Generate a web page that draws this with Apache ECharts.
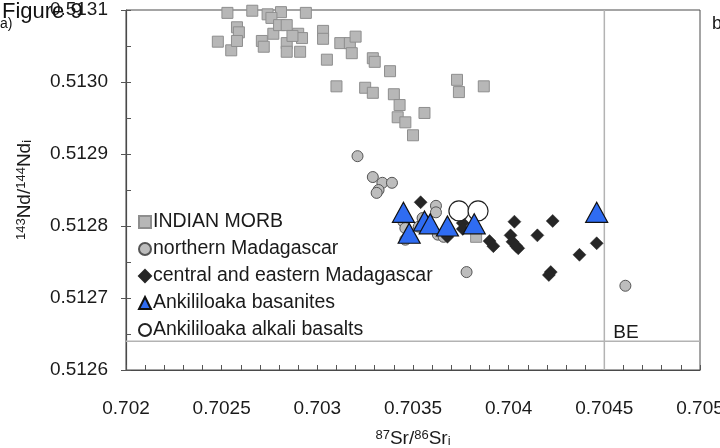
<!DOCTYPE html>
<html>
<head>
<meta charset="utf-8">
<script src="https://cdn.jsdelivr.net/npm/echarts@6/dist/echarts.min.js"></script>
<style>
  html, body { margin: 0; padding: 0; background: #fff; }
  #chart { width: 720px; height: 448px; }
</style>
</head>
<body>
<div id="chart"></div>
<script>
// 87Sr/86Sr (initial) vs 143Nd/144Nd (initial)
const morb = [
  [0.70253, 0.513096], [0.70266, 0.513099], [0.70274, 0.513094], [0.70281, 0.513097],
  [0.70294, 0.513096], [0.70276, 0.513089], [0.70248, 0.513056], [0.70255, 0.513044],
  [0.70258, 0.513076], [0.70259, 0.513069], [0.70258, 0.513057], [0.70271, 0.513057],
  [0.70272, 0.513049], [0.70277, 0.513067], [0.70280, 0.513079], [0.70284, 0.513079],
  [0.70284, 0.513054], [0.70284, 0.513042], [0.70290, 0.513067], [0.70292, 0.513061],
  [0.70291, 0.513042], [0.70303, 0.513071], [0.70303, 0.513060], [0.70305, 0.513031],
  [0.70312, 0.513054], [0.70317, 0.513054], [0.70318, 0.513040], [0.70320, 0.513063],
  [0.70310, 0.512994], [0.70325, 0.512992], [0.70329, 0.513033], [0.70330, 0.513028],
  [0.70338, 0.513015], [0.70329, 0.512985], [0.70340, 0.512983], [0.70343, 0.512968],
  [0.70342, 0.512951], [0.70346, 0.512944], [0.70350, 0.512926], [0.70356, 0.512957],
  [0.70373, 0.513003], [0.70374, 0.512986], [0.70387, 0.512994], [0.70383, 0.512785],
  [0.70287, 0.513064]
];
const northMada = [
  [0.70321, 0.512897], [0.70329, 0.512868], [0.70334, 0.512860], [0.70339, 0.512860],
  [0.70332, 0.512850], [0.70331, 0.512846], [0.70362, 0.512828], [0.70362, 0.512819],
  [0.70345, 0.512806], [0.70346, 0.512797], [0.70346, 0.512781], [0.70353, 0.512799],
  [0.70355, 0.512811], [0.70363, 0.512788], [0.70366, 0.512785], [0.70378, 0.512736],
  [0.70461, 0.512717]
];
const centralEastMada = [
  [0.70354, 0.512833], [0.70368, 0.512785], [0.70376, 0.512804], [0.70376, 0.512796],
  [0.70390, 0.512779], [0.70392, 0.512772], [0.70403, 0.512806], [0.70401, 0.512787],
  [0.70402, 0.512778], [0.70404, 0.512772], [0.70405, 0.512769], [0.70415, 0.512787],
  [0.70423, 0.512807], [0.70422, 0.512736], [0.70421, 0.512732], [0.70437, 0.512760],
  [0.70446, 0.512776]
];
const basanites = [
  [0.70345, 0.512819], [0.70348, 0.512790], [0.70356, 0.512807], [0.70359, 0.512803],
  [0.70368, 0.512800], [0.70382, 0.512803], [0.70446, 0.512819]
];
const alkaliBasalts = [
  [0.70374, 0.512821], [0.70384, 0.512821]
];
// Bulk Earth reference values
const beSr = 0.7045;
const beNd = 0.51264;

const xTicks = { min: 0.702, max: 0.705, step: 0.0005, minorStep: 0.0001 };
const yTicks = { min: 0.5126, max: 0.5131, step: 0.0001, minorStep: 0.00005 };

const FONT = '"Liberation Sans", Arial, sans-serif';
const ink = '#1a1a1a';
const tickColor = '#555';

const chart = echarts.init(document.getElementById('chart'), null, { renderer: 'canvas' });

const richTitle = {
  m:   { fontSize: 19, lineHeight: 19, verticalAlign: 'middle', fontFamily: FONT, color: ink },
  sup: { fontSize: 13, lineHeight: 13, verticalAlign: 'top', fontFamily: FONT, color: ink },
  sub: { fontSize: 13, lineHeight: 13, verticalAlign: 'bottom', fontFamily: FONT, color: ink }
};

const hiddenAxisParts = {
  axisLine: { show: false },
  axisLabel: { show: false },
  splitLine: { show: false }
};

chart.setOption({
  backgroundColor: '#fff',
  animation: false,
  textStyle: { fontFamily: FONT },
  grid: {
    left: 126, right: 20, top: 10, bottom: 78,
    outerBoundsMode: 'none', containLabel: false,
    show: true, borderColor: '#4a4a4a', borderWidth: 1, backgroundColor: 'transparent'
  },
  xAxis: [{
    type: 'value',
    min: xTicks.min, max: xTicks.max, interval: xTicks.step,
    axisLine: { onZero: false, lineStyle: { color: '#4a4a4a', width: 1.2 } },
    axisTick: { show: false },
    splitLine: { show: false },
    axisLabel: {
      margin: 29, fontSize: 19, color: ink, fontFamily: FONT,
      formatter: v => String(parseFloat(v.toFixed(4)))
    },
    name: '{sup|87}{m|Sr/}{sup|86}{m|Sr}{sub|i}',
    nameLocation: 'middle', nameGap: 59,
    nameTextStyle: { rich: richTitle, lineHeight: 26 }
  }, {
    // inward ticks along the bottom edge
    type: 'value', position: 'bottom',
    min: xTicks.min, max: xTicks.max, interval: xTicks.minorStep,
    axisTick: { show: true, inside: true, length: 5, lineStyle: { color: tickColor } },
    ...hiddenAxisParts
  }],
  yAxis: [{
    type: 'value',
    min: yTicks.min, max: yTicks.max, interval: yTicks.step,
    axisLine: { onZero: false, lineStyle: { color: '#4a4a4a', width: 1.2 } },
    axisTick: { show: true, inside: false, length: 5, lineStyle: { color: tickColor } },
    splitLine: { show: false },
    axisLabel: {
      margin: 18, fontSize: 19, color: ink, fontFamily: FONT,
      formatter: v => v.toFixed(4)
    },
    name: '{sup|143}{m|Nd/}{sup|144}{m|Nd}{sub|i}',
    nameLocation: 'middle', nameGap: 92, nameRotate: 90,
    nameTextStyle: { rich: richTitle, lineHeight: 26 }
  }, {
    // inward half-step ticks
    type: 'value', position: 'left',
    min: yTicks.min, max: yTicks.max, interval: yTicks.minorStep,
    axisTick: { show: true, inside: true, length: 5, lineStyle: { color: tickColor } },
    ...hiddenAxisParts
  }],
  legend: {
    orient: 'vertical',
    left: 133, top: 207,
    itemWidth: 12, itemHeight: 12, itemGap: 7,
    textStyle: { fontSize: 19.5, lineHeight: 20, color: ink, fontFamily: FONT, padding: [0, 0, 0, -3] },
    data: [
      { name: 'INDIAN MORB', icon: 'rect' },
      { name: 'northern Madagascar', icon: 'circle' },
      { name: 'central and eastern Madagascar', icon: 'diamond' },
      { name: 'Ankililoaka basanites', icon: 'triangle' },
      { name: 'Ankililoaka alkali basalts', icon: 'circle' }
    ]
  },
  series: [
    {
      // Bulk Earth guides
      name: 'BE Sr', type: 'line', silent: true, symbol: 'none', z: 1,
      data: [[beSr, yTicks.min], [beSr, yTicks.max]],
      lineStyle: { color: '#b3b3b3', width: 1.5 }
    },
    {
      name: 'BE Nd', type: 'line', silent: true, symbol: 'none', z: 1,
      data: [[xTicks.min, beNd], [xTicks.max, beNd]],
      lineStyle: { color: '#b3b3b3', width: 1.5 },
      markPoint: {
        silent: true, symbol: 'circle', symbolSize: 0,
        label: {
          show: true, formatter: 'BE', fontSize: 19, color: ink, fontFamily: FONT,
          position: 'insideLeft', offset: [4, -8]
        },
        data: [{ coord: [beSr, beNd] }]
      }
    },
    {
      name: 'INDIAN MORB', type: 'scatter', symbol: 'rect', symbolSize: 11,
      data: morb,
      itemStyle: { color: '#b7b7b7', borderColor: '#8e8e8e', borderWidth: 1, opacity: 1 }
    },
    {
      name: 'northern Madagascar', type: 'scatter', symbol: 'circle', symbolSize: 11,
      data: northMada,
      itemStyle: { color: '#bdbdbd', borderColor: '#555', borderWidth: 1, opacity: 1 }
    },
    {
      name: 'central and eastern Madagascar', type: 'scatter', symbol: 'diamond', symbolSize: 13,
      data: centralEastMada,
      itemStyle: { color: '#262626', borderColor: '#262626', borderWidth: 0.5, opacity: 1 }
    },
    {
      name: 'Ankililoaka alkali basalts', type: 'scatter', symbol: 'circle', symbolSize: 20,
      data: alkaliBasalts,
      itemStyle: { color: '#ffffff', borderColor: '#222', borderWidth: 1.2, opacity: 1 }
    },
    {
      name: 'Ankililoaka basanites', type: 'scatter', symbol: 'triangle', symbolSize: [22, 20],
      data: basanites,
      itemStyle: { color: '#2f6cf2', borderColor: '#111', borderWidth: 1.2, opacity: 1 }
    }
  ],
  graphic: [
    { type: 'text', left: 2, top: 1, z: 10,
      style: { text: 'Figure 9', fontSize: 22, fontFamily: FONT, fill: '#111' } },
    { type: 'text', left: 0, top: 17, z: 10,
      style: { text: 'a)', fontSize: 14, fontFamily: FONT, fill: '#111' } },
    { type: 'text', left: 712, top: 15, z: 10,
      style: { text: 'b', fontSize: 18, fontFamily: FONT, fill: '#111' } }
  ]
});
</script>
</body>
</html>
